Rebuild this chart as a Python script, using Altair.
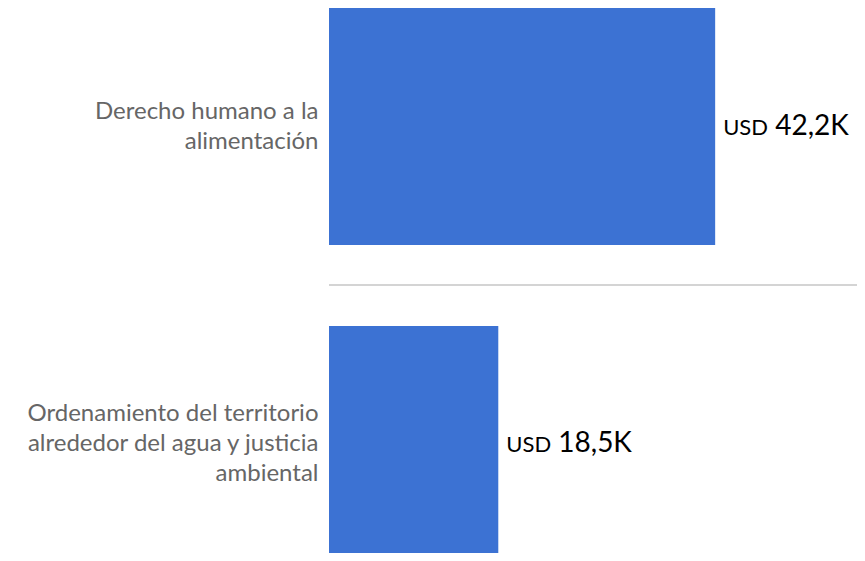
import altair as alt
import pandas as pd

categories = [
    "Derecho humano a la|alimentación",
    "Ordenamiento del territorio|alrededor del agua y justicia|ambiental",
]
values = [42.2, 18.5]
value_labels = ["42,2K", "18,5K"]
currency = ["USD", "USD"]

df = pd.DataFrame({"cat": categories, "value": values, "num": value_labels, "cur": currency})
sep = pd.DataFrame({"cat": [categories[1]]})

yscale = alt.Scale(domain=categories, paddingInner=0.2547, paddingOuter=0, range=[0, 555])
yaxis = alt.Axis(
    title=None, domain=False, ticks=False, grid=False,
    labelExpr="split(datum.label, '|')",
    labelFont="Lato", labelFontSize=24, labelColor="#666666",
    labelLineHeight=30, labelPadding=11, labelLimit=400, labelBaseline="middle",
    labelOffset={"expr": "-15 * (length(split(datum.label, '|')) - 1)"},
)
y = alt.Y("cat:N", scale=yscale, axis=yaxis)
x = alt.X("value:Q", scale=alt.Scale(domain=[0, 57.7]), axis=None)

bars = alt.Chart(df).mark_bar(color="#3C72D3").encode(x=x, y=y)
cur = alt.Chart(df).mark_text(
    align="left", baseline="middle", dx=8, dy=1, font="Lato", fontSize=22, color="#000000"
).encode(x=x, y=y, text="cur:N")
num = alt.Chart(df).mark_text(
    align="left", baseline="middle", dx=60, font="Lato", fontSize=28, color="#000000"
).encode(x=x, y=y, text="num:N")
rule = alt.Chart(sep).mark_rule(color="#d4d4d4", strokeWidth=2, yOffset=-41).encode(
    y=alt.Y("cat:N", scale=yscale, bandPosition=0, axis=yaxis)
)

chart = (
    alt.layer(rule, bars, cur, num)
    .properties(
        width=528, height=545,
        padding={"left": 321, "top": 0, "right": 0, "bottom": 0},
        autosize=alt.AutoSizeParams(type="none"),
    )
    .configure_view(stroke=None)
)
chart.save("out.html", embed_options={"renderer": "svg", "actions": False})
